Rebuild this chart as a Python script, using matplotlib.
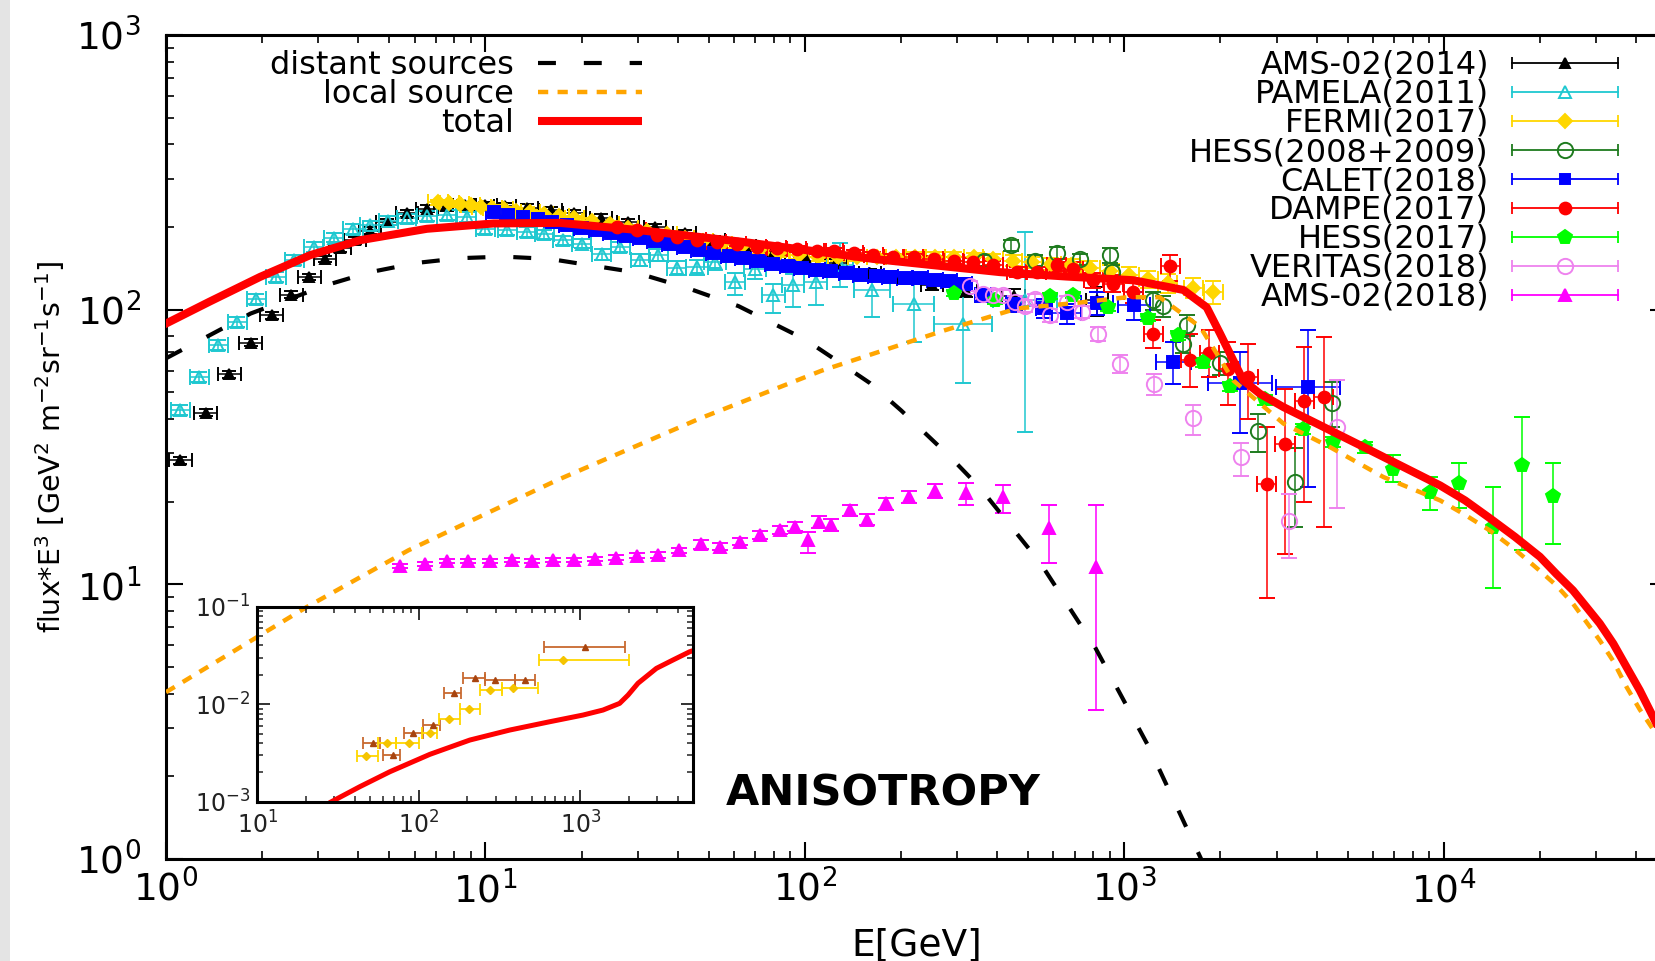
import matplotlib
matplotlib.use('Agg')
import matplotlib.pyplot as plt
from matplotlib.patches import Rectangle
from matplotlib.ticker import NullFormatter
import numpy as np

# ---- model curves (E in GeV, flux*E^3) ----
dist_E = [1, 1.37, 1.84, 3.19, 4.36, 6.1, 8.33, 11.4, 15.9, 29.2, 42.8, 62, 100, 124, 160, 200, 286, 353, 545, 810, 1195, 1740, 1900]
dist_F = [66.5, 80.7, 96.8, 123, 137, 148, 154, 156, 153, 137, 120, 103, 78, 66, 54, 43, 29, 22.5, 12.0, 5.9, 2.55, 1.0, 0.8]

local_E = [1, 2.75, 5.74, 16.7, 47, 113, 273, 462, 718, 1020, 1290, 1729, 2193, 3148, 4404, 6466, 9750, 11670, 13950,
           16700, 20000, 22540, 25400, 30800, 33960, 37350, 41100, 45800, 50000]
local_F = [4.05, 8.25, 13.3, 23.9, 40.2, 60, 84, 101, 106, 111, 111, 86.5, 55.3, 38.5, 31.6, 24.6, 20.2, 17.9, 15.7,
           13.4, 11.2, 9.9, 8.5, 6.25, 5.25, 4.23, 3.5, 2.9, 2.45]

total_E = [1, 1.37, 1.97, 2.83, 4.05, 6.56, 10.6, 17.1, 30, 62.7, 100, 164, 408, 660, 1067, 1530, 1811, 1995, 2193, 2357,
           2660, 3148, 4000, 4620, 5875, 8225, 9750, 11670, 13950, 16700, 20000, 22540, 25400, 30800, 33960, 37350,
           41100, 45250, 50000]
total_F = [89, 107, 131.6, 158, 179, 197, 206, 207, 195, 177, 165, 153, 137, 132, 128, 118, 102, 81.8, 65.4, 55.3,
           49.4, 44.2, 38.5, 35.4, 30.8, 25.3, 22.9, 20.2, 17.4, 14.9, 12.6, 10.9, 9.5, 7.2, 6.08, 5.0,
           4.11, 3.29, 2.6]

# ---- data sets ----
ams14_E = [1.11, 1.33, 1.58, 1.84, 2.14, 2.47, 2.81, 3.15, 3.51, 3.91, 4.36, 4.91, 5.67, 6.56, 7.5, 8.6, 10.0, 11.5, 13.5, 16.0,
           19.0, 23.0, 28.0, 34.0, 42.0, 52.0, 65.0, 80.0, 100.0, 125.0, 160.0, 200.0, 250.0, 320.0, 450.0, 820.0]
ams14_F = [28.3, 42.2, 58.2, 75.9, 95.4, 113.5, 131.5, 153, 167, 179, 194, 208, 224, 233, 238, 240, 240, 238, 235, 230,
           224, 216, 208, 200, 190, 180, 170, 162, 155, 148, 136, 130, 123, 117, 112, 108]
ams14_err = [0.8, 1.2, 1.7, 2.2, 2.8, 3.3, 3.8, 4.4, 4.8, 5.2, 5.6, 6.0, 6.5, 6.8, 6.9, 7.0, 7.0, 6.9, 6.8, 6.7,
             6.5, 6.3, 6.0, 5.8, 5.5, 5.3, 5.0, 4.8, 4.6, 4.5, 4.4, 4.5, 4.8, 5.5, 7.0, 13.0]
ams14_xdex = 0.035

pamela_E = [1.11, 1.27, 1.46, 1.67, 1.92, 2.21, 2.52, 2.90, 3.35, 3.85, 4.34, 4.97, 5.67, 6.56, 7.57, 8.74, 9.98, 11.7, 13.5, 15.3,
            17.5, 20.0, 23.1, 26.4, 30.5, 34.8, 39.7, 45.9, 52.4, 60.5, 69.9, 79.7, 92.0, 108, 129, 162, 219, 313, 489]
pamela_F = [43.3, 56.9, 74.6, 90.2, 109.7, 131.6, 152, 169, 183, 197, 203, 211, 215, 219, 221, 218, 196, 195, 192, 188,
            179, 174, 159, 169, 152, 158, 142, 143, 149, 126, 141, 113, 123, 126, 145, 118, 105, 89, 108]
pamela_lo = [1.8, 2.3, 3.0, 3.6, 4.4, 5.3, 6.1, 6.8, 7.3, 7.9, 8.1, 8.4, 8.6, 8.8, 8.8, 8.7, 7.8, 7.8, 7.7, 7.5,
             7.2, 7.0, 7.0, 7.5, 7.5, 8, 8, 9, 10, 13, 12, 16, 21, 22, 24, 24, 29, 35, 72]
pamela_hi = [1.8, 2.3, 3.0, 3.6, 4.4, 5.3, 6.1, 6.8, 7.3, 7.9, 8.1, 8.4, 8.6, 8.8, 8.8, 8.7, 7.8, 7.8, 7.7, 7.5,
             7.2, 7.0, 7.0, 7.5, 7.5, 8, 8, 9, 10, 10, 12, 11, 12, 7, 30, 19, 21, 39, 84]
pamela_xdex = [0.03] * 27 + [0.035, 0.035, 0.031, 0.035, 0.035, 0.035, 0.035, 0.04, 0.057, 0.065, 0.09, 0.1]

fermi_E = [7.1, 7.7, 8.3, 9.0, 9.7, 10.5, 11.4, 12.5, 13.8, 15.2, 17, 19, 21.5, 24.5, 28, 32, 37, 42, 48, 55,
           63, 72, 83, 96, 110, 127, 146, 168, 193, 222, 256, 294, 338, 389, 447, 514, 591, 680, 782, 899,
           1034, 1189, 1367, 1645, 1897]
fermi_F = [246, 244, 242, 240, 237, 235, 232, 229, 226, 223, 219, 215, 211, 205, 199, 194, 188, 183, 178, 173,
           169, 165, 161, 158, 156, 155, 155, 155, 155, 156, 156, 156, 155, 153, 151, 149, 147, 145, 142, 138,
           134, 129, 125, 120, 116]
fermi_err = [5, 5, 5, 5, 5, 5, 5, 5, 5, 5, 5, 5, 5, 5, 5, 5, 5, 5, 5, 5,
             5, 5, 5, 5, 5, 5, 5, 5, 5, 6, 6, 6, 6, 7, 7, 7, 7, 8, 8, 8,
             9, 9, 10, 10, 11]
fermi_xdex = 0.03

hess08_E = [364, 442, 525, 614, 727, 901, 913, 1233, 1325, 1531, 1568, 1995, 2626, 3420, 4460]
hess08_F = [151, 172, 151, 161, 153, 158, 137, 108, 103, 75.3, 88, 64, 36.2, 23.6, 45.7]
hess08_lo = [7, 8, 7, 8, 7, 10, 9, 8, 9, 6, 8, 6, 5.9, 7.4, 8.3]
hess08_hi = [7, 8, 7, 8, 7, 10, 9, 8, 9, 6, 8, 6, 5.6, 7.7, 8.8]

calet_E = [10.6, 11.8, 13.1, 14.6, 16.2, 18.0, 20.0, 22.3, 24.8, 27.5, 30.6, 34.0, 37.8, 42.0, 46.7, 52.0, 57.8, 64.2, 71.4, 79.4,
           88.3, 98.1, 109, 121, 135, 150, 167, 185, 206, 229, 255, 283, 315, 362, 450, 560, 661, 822, 1070, 1422, 2300, 3770]
calet_F = [226, 222, 218, 213, 209, 204, 199, 195, 190, 186, 182, 178, 173, 169, 165, 161, 157, 154, 150, 147,
           144, 142, 140, 138, 136, 134, 133, 132, 130, 130, 128, 127, 124, 113, 105, 101, 97, 106, 104, 64.3, 54, 52.3]
calet_lo = [6] * 33 + [6, 7, 8, 8, 10, 12, 10.5, 18.5, 29.6]
calet_hi = [6] * 33 + [6, 7, 8, 8, 10, 12, 12, 16, 32.3]
calet_xdex = [0.025] * 36 + [0.045, 0.05, 0.05, 0.055, 0.1, 0.1]

dampe_E = [25.8, 29.8, 34.4, 39.7, 45.9, 53.0, 61.2, 70.7, 81.6, 94.3, 109, 123, 142, 164, 189, 219, 253, 292, 337, 389,
           460, 532, 614, 692, 800, 924, 1067, 1233, 1394, 1607, 1845, 2118, 2445, 2790, 3185, 3660, 4216]
dampe_F = [200, 195, 187, 184, 179, 177, 174, 169, 167, 166, 164, 163, 161, 158, 156, 156, 153, 151, 149, 145,
           137, 137, 145, 141, 128, 124.5, 116, 81.8, 144, 65.4, 69.5, 61, 56.9, 23.1, 32.4, 46.4, 47.9]
dampe_lo = [4, 4, 4, 4, 4, 4, 4, 4, 4, 4, 4, 4, 4, 4, 4, 4, 4, 4, 5, 5,
            6, 6, 7, 7, 8, 9, 10, 9, 17, 13, 12.6, 16, 17, 14.2, 19.5, 26.5, 31.7]
dampe_hi = [4, 4, 4, 4, 4, 4, 4, 4, 4, 4, 4, 4, 4, 4, 4, 4, 4, 4, 5, 5,
            6, 6, 8, 8, 8, 9, 10, 10, 14, 16, 14.6, 15, 18, 14.3, 19.2, 26.7, 31.7]
dampe_xdex = 0.03

hess17_E = [292, 394, 585, 692, 891, 1189, 1475, 1767, 2143, 2754, 3634, 4490, 5665, 6950, 9060, 11170, 14230, 17540, 21930]
hess17_F = [115, 108, 112, 113, 102, 93.6, 80.7, 64.4, 52.6, 47.1, 36.9, 33, 31.6, 26.4, 21.7, 23.3, 16.2, 27.1, 20.9]
hess17_lo = [3, 3, 3, 3, 3, 3, 3, 2.5, 2, 2, 1.5, 1.5, 1.5, 2.8, 3.1, 4.4, 6.5, 13.8, 6.9]
hess17_hi = [3, 3, 3, 3, 3, 3, 3, 2.5, 2, 2, 1.5, 1.5, 1.5, 3.1, 2.9, 4.4, 6.5, 13.6, 6.8]

veritas_E = [329, 362, 389, 418, 455, 489, 525, 585, 660, 736, 829, 970, 1240, 1640, 2313, 3281, 4620]
veritas_F = [122, 114, 113, 113, 107, 103, 109, 95.4, 107, 98, 81.8, 63.6, 53.6, 40.2, 29.1, 17, 37.4]
veritas_lo = [5, 5, 5, 5, 5, 5, 5, 5, 5, 5, 5, 5, 4.5, 5.3, 4.2, 4.5, 18.5]
veritas_hi = [5, 5, 5, 5, 5, 5, 5, 5, 5, 5, 5, 5, 4.5, 4.7, 3.7, 4.4, 18.2]

ams18_E = [5.41, 6.48, 7.57, 8.85, 10.3, 12.1, 14.0, 16.3, 18.9, 22.1, 25.6, 29.9, 34.8, 40.5, 47.2, 54.3, 62.7, 72.4, 83.6, 93.2,
           102.5, 111, 121, 138, 156, 180, 212, 256, 319, 416, 582, 815]
ams18_F = [11.63, 11.9, 12.2, 12.2, 12.2, 12.3, 12.2, 12.3, 12.3, 12.4, 12.5, 12.7, 12.8, 13.3, 14.0, 13.7, 14.3, 15.1, 15.8, 16.2,
           14.5, 16.9, 16.5, 18.6, 17.2, 19.7, 20.8, 21.9, 21.5, 20.8, 16.0, 11.6]
ams18_lo = [0.2, 0.2, 0.2, 0.2, 0.2, 0.2, 0.2, 0.2, 0.2, 0.2, 0.25, 0.25, 0.3, 0.3, 0.5, 0.4, 0.4, 0.5, 0.5, 0.6,
            1.5, 0.9, 0.8, 0.9, 0.8, 1.0, 1.1, 1.2, 2.1, 2.6, 4.0, 8.1]
ams18_hi = [0.2, 0.2, 0.2, 0.2, 0.2, 0.2, 0.2, 0.2, 0.2, 0.2, 0.25, 0.25, 0.3, 0.3, 0.5, 0.4, 0.4, 0.5, 0.5, 0.6,
            1.0, 0.9, 0.8, 0.9, 0.8, 1.0, 1.1, 1.2, 1.9, 2.1, 3.5, 7.9]

# ---- inset: anisotropy ----
ani_E = [28.8, 43.1, 66.2, 117, 207, 365, 646, 1038, 1380, 1750, 1972, 2273, 2954, 3742, 4746, 5000]
ani_A = [0.001, 0.001425, 0.00203, 0.00306, 0.00429, 0.00543, 0.00661, 0.00774, 0.00871, 0.0102, 0.0124, 0.0164, 0.0233, 0.0284, 0.0345, 0.0355]

ani1_E = [52.3, 68.7, 92.3, 122, 164, 222, 295, 453, 1064]
ani1_A = [0.00403, 0.00301, 0.0051, 0.00611, 0.01312, 0.0187, 0.0177, 0.0177, 0.0389]
ani1_Elo = [44.8, 59.6, 80.7, 105.4, 143, 188, 256, 396, 596]
ani1_Ehi = [57.4, 76.3, 105.4, 135, 183, 256, 396, 527, 1880]

ani2_E = [47.4, 63.7, 86.7, 117, 153, 204, 275, 383, 782]
ani2_A = [0.00296, 0.00397, 0.00397, 0.00502, 0.00698, 0.00891, 0.014, 0.0148, 0.0284]
ani2_Elo = [41.6, 56.0, 72.7, 104, 134, 179.5, 240, 327, 555]
ani2_Ehi = [55.5, 72.7, 100.4, 130, 181, 238, 327, 547, 1990]

W, H = 1656, 961
fig = plt.figure(figsize=(W / 100, H / 100), dpi=100)
fig.add_artist(Rectangle((0, 0), 10 / W, 1, transform=fig.transFigure,
                         facecolor='#e4e4e4', edgecolor='none', zorder=0))

ax = fig.add_axes([166 / W, 1 - 859 / H, 1501 / W, 824 / H])
ax.set_xscale('log')
ax.set_yscale('log')


def draw_set(E, F, lo, hi, xdex, color, marker, ms, filled=True, capsize=6):
    E = np.asarray(E, float)
    xerr = None
    if xdex is not None:
        d = np.asarray(xdex, float) * np.ones_like(E)
        xerr = [E - E / 10 ** d, E * 10 ** d - E]
    ax.errorbar(E, F, yerr=[lo, hi], xerr=xerr, fmt=marker, color=color, ms=ms,
                mfc=color if filled else 'none', mec=color, mew=1.4,
                ecolor=color, elinewidth=1.1, capsize=capsize, capthick=1.1, zorder=2)


draw_set(ams14_E, ams14_F, ams14_err, ams14_err, ams14_xdex, 'black', '^', 7, capsize=5)
draw_set(pamela_E, pamela_F, pamela_lo, pamela_hi, pamela_xdex, '#1fc8d0', '^', 8, filled=False)
draw_set(fermi_E, fermi_F, fermi_err, fermi_err, fermi_xdex, '#ffd700', 'D', 7)
draw_set(hess08_E, hess08_F, hess08_lo, hess08_hi, None, '#1e7b1e', 'o', 11, filled=False)
draw_set(calet_E, calet_F, calet_lo, calet_hi, calet_xdex, '#0000ff', 's', 9)
draw_set(dampe_E, dampe_F, dampe_lo, dampe_hi, dampe_xdex, '#ff0000', 'o', 8.5)
draw_set(hess17_E, hess17_F, hess17_lo, hess17_hi, None, '#00ff00', 'p', 10)
draw_set(veritas_E, veritas_F, veritas_lo, veritas_hi, None, '#ee82ee', 'o', 11, filled=False)
draw_set(ams18_E, ams18_F, ams18_lo, ams18_hi, None, '#ff00ff', '^', 9)

# model curves on top of the points
dist_style = dict(color='black', lw=3, dashes=(4.3, 6.7))
local_style = dict(color='#ffa500', lw=3.2, dashes=(2.3, 2.1))
total_style = dict(color='#ff0000', lw=5.8)
ax.plot(dist_E, dist_F, zorder=3, **dist_style)
ax.plot(local_E, local_F, zorder=3, **local_style)
ax.plot(total_E, total_F, zorder=3, **total_style)

ax.set_xlim(1, 5e4)
ax.set_ylim(1, 1000)
ax.tick_params(which='both', direction='in', top=True, right=True)
ax.tick_params(which='major', length=12, width=1.5, labelsize=27)
ax.tick_params(which='minor', length=6, width=1.2)
ax.tick_params(axis='x', pad=8)
ax.tick_params(axis='y', pad=18)
ax.xaxis.set_minor_formatter(NullFormatter())
ax.yaxis.set_minor_formatter(NullFormatter())
for s in ax.spines.values():
    s.set_linewidth(2.2)

ax.set_xlabel('E[GeV]', fontsize=27)
ax.xaxis.set_label_coords(0.5, -0.0825)
ax.set_ylabel(r'flux*E$^{3}$ [GeV$^{2}$ m$^{-2}$sr$^{-1}$s$^{-1}$]', fontsize=20.5)
ax.yaxis.set_label_coords(-0.066, 0.5)

ax.text(0.3731, 0.0655, 'ANISOTROPY', transform=ax.transAxes, fontsize=31,
        fontweight='bold', ha='left', va='baseline')

# keys, drawn by hand to keep the gnuplot layout
key_fs = 23
left_rows = [0.963, 0.928, 0.893]
for y, lab, st in zip(left_rows, ['distant sources', 'local source', 'total'],
                      [dist_style, local_style, total_style]):
    ax.text(0.2318, y, lab, transform=ax.transAxes, fontsize=key_fs, ha='right', va='center')
    ax.plot([0.2478, 0.3171], [y + 0.003, y + 0.003], transform=ax.transAxes,
            solid_capstyle='butt', **st)

right_rows = [0.963, 0.9278, 0.8926, 0.8574, 0.8222, 0.7871, 0.7519, 0.7167, 0.6815]
right_keys = [('AMS-02(2014)', 'black', '^', 7, True),
              ('PAMELA(2011)', '#1fc8d0', '^', 8, False),
              ('FERMI(2017)', '#ffd700', 'D', 7, True),
              ('HESS(2008+2009)', '#1e7b1e', 'o', 11, False),
              ('CALET(2018)', '#0000ff', 's', 7.5, True),
              ('DAMPE(2017)', '#ff0000', 'o', 8.5, True),
              ('HESS(2017)', '#00ff00', 'p', 10, True),
              ('VERITAS(2018)', '#ee82ee', 'o', 11, False),
              ('AMS-02(2018)', '#ff00ff', '^', 9, True)]
for y, (lab, c, m, ms, filled) in zip(right_rows, right_keys):
    ax.text(0.8814, y, lab, transform=ax.transAxes, fontsize=key_fs, ha='right', va='center')
    yk = y + 0.003
    ax.plot([0.8967, 0.9674], [yk, yk], transform=ax.transAxes, color=c, lw=1.3,
            marker='|', ms=9, mew=1.3)
    ax.plot([0.932], [yk], transform=ax.transAxes, ls='none', marker=m, ms=ms, color=c,
            mfc=c if filled else 'none', mec=c, mew=1.4)

# ---- inset ----
ax2 = fig.add_axes([257.3 / W, 1 - 801.7 / H, 436 / W, 195 / H])
ax2.set_facecolor('none')
ax2.set_xscale('log')
ax2.set_yscale('log')
ani1_E_arr = np.asarray(ani1_E)
ani2_E_arr = np.asarray(ani2_E)
ax2.errorbar(ani1_E, ani1_A, xerr=[ani1_E_arr - ani1_Elo, np.asarray(ani1_Ehi) - ani1_E_arr],
             fmt='^', color='#c8692f', mfc='#a8440f', mec='#a8440f', ms=5,
             elinewidth=1.3, capsize=4, capthick=1.3)
ax2.errorbar(ani2_E, ani2_A, xerr=[ani2_E_arr - ani2_Elo, np.asarray(ani2_Ehi) - ani2_E_arr],
             fmt='D', color='#ffd700', mfc='#f5c400', mec='#f5c400', ms=4,
             elinewidth=1.3, capsize=4, capthick=1.3)
ax2.plot(ani_E, ani_A, color='#ff0000', lw=3.6)
ax2.set_xlim(10, 5000)
ax2.set_ylim(1e-3, 1e-1)
ax2.tick_params(which='both', direction='in', top=True, right=True, labelsize=17, colors='#222222')
ax2.tick_params(axis='x', pad=7)
ax2.tick_params(axis='y', pad=5)
ax2.tick_params(which='major', length=9, width=1.3)
ax2.tick_params(which='minor', length=4.5, width=1.1)
ax2.xaxis.set_minor_formatter(NullFormatter())
ax2.yaxis.set_minor_formatter(NullFormatter())
for s in ax2.spines.values():
    s.set_linewidth(2.2)

fig.savefig('out.png', dpi=100)
